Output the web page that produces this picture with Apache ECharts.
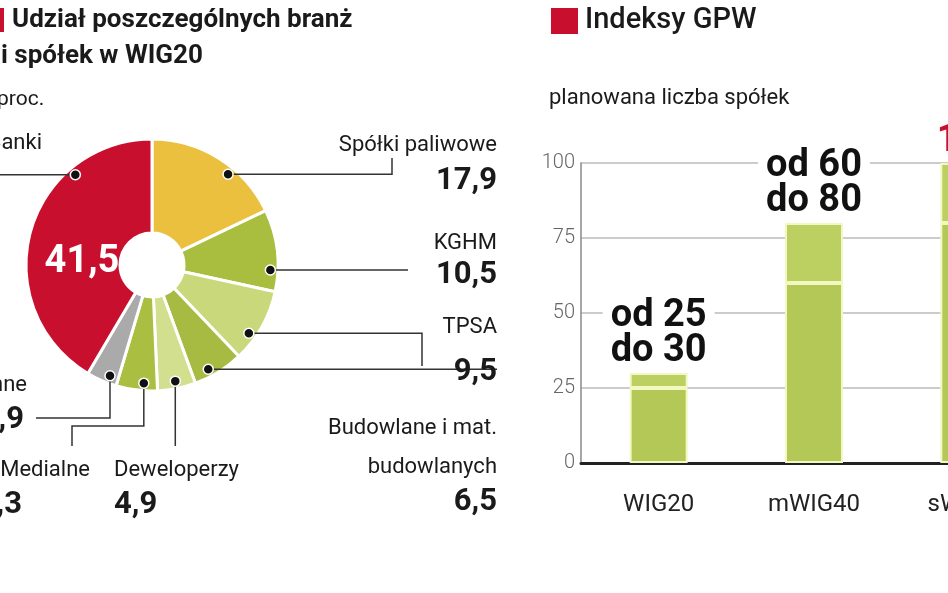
<!DOCTYPE html>
<html>
<head>
<meta charset="utf-8">
<script src="https://cdn.jsdelivr.net/npm/echarts@6/dist/echarts.min.js"></script>
<style>html,body{margin:0;background:#fff;overflow:hidden}#main{width:1060px;height:593px}</style>
</head>
<body>
<div id="main"></div>
<script>
// udzial branz w WIG20, proc.
var sectors = ['Spółki paliwowe', 'KGHM', 'TPSA', 'Budowlane i mat. budowlanych', 'Deweloperzy', 'Medialne', 'Inne', 'Banki'];
var shares = [17.9, 10.5, 9.5, 6.5, 4.9, 5.3, 3.9, 41.5];
var sectorColors = ['#EBC03E', '#A9BD3E', '#C8D87A', '#A7BB42', '#D2DF8E', '#AABF42', '#AAAAAA', '#C8102E'];

// indeksy GPW - planowana liczba spolek
var indexes = ['WIG20', 'mWIG40', 'sWIG80'];
var countFrom = [25, 60, 80];
var countExtra = [5, 20, 20];
var rangeLabels = ['od 25\ndo 30', 'od 60\ndo 80', '100'];

var fmt = function (v) { return String(v).replace('.', ','); };

var cx = 152, cy = 265, rOut = 126, rIn = 32;
var total = shares.reduce(function (a, b) { return a + b; }, 0);
// gdzie na wycinku siedzi kropka odnosnika (ulamek kata)
var dotFrac = [0.62, 0.74, 0.67, 0.65, 0.5, 0.34, 0.3, 0.73];
var dots = [];
var acc = 0;
shares.forEach(function (v, i) {
    var a = (acc + v * dotFrac[i]) / total * 2 * Math.PI;
    acc += v;
    var r = rOut * 0.94;
    dots.push([cx + r * Math.sin(a), cy - r * Math.cos(a)]);
});

var big = {fontFamily: 'Roboto', fontWeight: 'bold', fontSize: 31, fill: '#1a1a1a'};
var small = {fontFamily: 'Roboto', fontSize: 22, fill: '#1a1a1a'};
function txt(x, y, s, st, align) {
    return {type: 'text', x: x, y: y, z: 10, style: Object.assign({text: s, align: align || 'left', verticalAlign: 'middle'}, st)};
}
function line(pts) {
    return {type: 'polyline', shape: {points: pts}, style: {stroke: '#333', lineWidth: 1.5, fill: null}, z: 5};
}

var d = dots;
var graphics = [
    {type: 'rect', shape: {x: -20, y: 8, width: 24, height: 24}, style: {fill: '#C8102E'}},
    txt(12, 20, 'Udział poszczególnych branż', {fontFamily: 'Roboto', fontWeight: 'bold', fontSize: 26, fill: '#1a1a1a'}),
    txt(1, 56, 'i spółek w WIG20', {fontFamily: 'Roboto', fontWeight: 'bold', fontSize: 26, fill: '#1a1a1a'}),
    txt(-24, 100, 'w proc.', {fontFamily: 'Roboto', fontSize: 21, fill: '#1a1a1a'}),
    {type: 'rect', shape: {x: 551, y: 8, width: 27, height: 26}, style: {fill: '#C8102E'}},
    txt(585, 21, 'Indeksy GPW', {fontFamily: 'Roboto', fontWeight: 500, fontSize: 29, fill: '#1a1a1a'}),
    txt(549, 98, 'planowana liczba spółek', {fontFamily: 'Roboto', fontSize: 22, fill: '#1a1a1a'}),

    // Banki
    txt(42, 143, sectors[7], small, 'right'),
    line([[d[7][0], d[7][1]], [-5, d[7][1]]]),
    txt(82, 262, fmt(shares[7]), {fontFamily: 'Roboto', fontWeight: 'bold', fontSize: 38, fill: '#fff'}, 'center'),
    // paliwowe
    txt(497, 145, sectors[0], small, 'right'),
    txt(497, 181, fmt(shares[0]), big, 'right'),
    line([d[0], [392, d[0][1]], [392, 158]]),
    // KGHM
    txt(497, 243, sectors[1], small, 'right'),
    txt(497, 275, fmt(shares[1]), big, 'right'),
    line([d[1], [408, d[1][1]]]),
    // TPSA
    txt(497, 327, sectors[2], small, 'right'),
    txt(497, 372, fmt(shares[2]), big, 'right'),
    line([d[2], [422, d[2][1]], [422, 366]]),
    // Budowlane
    txt(497, 428, 'Budowlane i mat.', small, 'right'),
    txt(497, 467, 'budowlanych', small, 'right'),
    txt(497, 502, fmt(shares[3]), big, 'right'),
    line([d[3], [497, d[3][1]]]),
    // Deweloperzy
    txt(114, 470, sectors[4], small),
    txt(114, 505, fmt(shares[4]), big),
    line([d[4], [d[4][0], 446]]),
    // Medialne
    txt(90, 470, sectors[5], small, 'right'),
    txt(22, 505, fmt(shares[5]), big, 'right'),
    line([d[5], [d[5][0], 426], [72, 426], [72, 446]]),
    // Inne
    txt(27, 385, sectors[6], small, 'right'),
    txt(24, 420, fmt(shares[6]), big, 'right'),
    line([d[6], [d[6][0], 418], [36, 418]])
];
dots.forEach(function (p) {
    graphics.push({type: 'circle', shape: {cx: p[0], cy: p[1], r: 5}, style: {fill: '#111', stroke: '#fff', lineWidth: 1.5}, z: 6});
});

var chart = echarts.init(document.getElementById('main'));
chart.setOption({
    animation: false,
    backgroundColor: '#fff',
    grid: {left: 581, right: 13, top: 163, bottom: 130},
    xAxis: {
        type: 'category',
        data: indexes,
        axisTick: {show: false},
        axisLine: {lineStyle: {color: '#222', width: 3}},
        axisLabel: {fontFamily: 'Roboto', fontSize: 24, color: '#222', margin: 30}
    },
    yAxis: {
        type: 'value', min: 0, max: 100, interval: 25,
        axisLine: {show: true, lineStyle: {color: '#888', width: 1.5}},
        axisLabel: {fontFamily: 'Roboto', fontWeight: 300, fontSize: 20, color: '#666', margin: 6},
        splitLine: {lineStyle: {color: '#bbb', width: 1.5}}
    },
    series: [
        {
            type: 'pie', center: [cx, cy], radius: [rIn, rOut],
            startAngle: 90, clockwise: true, silent: true,
            label: {show: false}, labelLine: {show: false},
            itemStyle: {borderColor: '#fff', borderWidth: 3},
            data: shares.map(function (v, i) { return {name: sectors[i], value: v, itemStyle: {color: sectorColors[i]}}; })
        },
        {
            type: 'bar', stack: 'n', barWidth: 58,
            itemStyle: {color: '#B3C856', borderColor: '#F3F7C2', borderWidth: 2},
            data: countFrom
        },
        {
            type: 'bar', stack: 'n', barWidth: 58,
            itemStyle: {color: '#BCD062', borderColor: '#F3F7C2', borderWidth: 2},
            label: {
                show: true, position: 'top', distance: 4,
                fontFamily: 'Roboto', fontWeight: 'bold', fontSize: 38, lineHeight: 35,
                backgroundColor: '#fff', padding: [0, 8],
                formatter: function (p) { return rangeLabels[p.dataIndex]; },
                color: '#111'
            },
            data: countExtra.map(function (v, i) {
                return i === 2 ? {value: v, label: {color: '#C8102E'}} : v;
            })
        }
    ],
    graphic: graphics
});
</script>
</body>
</html>
